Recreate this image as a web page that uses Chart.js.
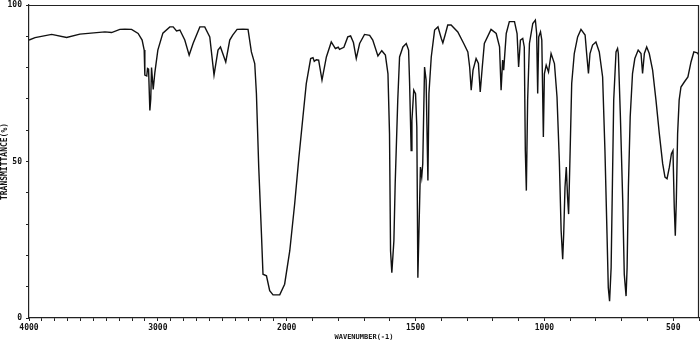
<!DOCTYPE html>
<html>
<head>
<meta charset="utf-8">
<script src="https://cdn.jsdelivr.net/npm/chart.js@4.4.0/dist/chart.umd.min.js"></script>
<style>
  html, body { margin: 0; padding: 0; background: #fff; }
  #wrap { width: 700px; height: 348px; }
</style>
</head>
<body>
<div id="wrap"><canvas id="irChart"></canvas></div>
<script>
// IR spectrum (wavenumber in cm-1, transmittance in %)
const wavenumbers = [
  4000, 3953, 3824, 3708, 3605, 3411, 3359, 3295, 3256, 3204, 3153, 3122, 3106, 3101, 3086, 3080,
  3072, 3062, 3055, 3049, 3036, 3023, 3000, 2961, 2907, 2881, 2855, 2829, 2791, 2757, 2726, 2674,
  2636, 2597, 2564, 2533, 2514, 2473, 2442, 2419, 2385, 2340, 2300, 2274, 2248, 2235, 2217, 2196,
  2184, 2157, 2132, 2106, 2054, 2016, 1988, 1969, 1953, 1937, 1924, 1907, 1898, 1893, 1885, 1876,
  1863, 1846, 1827, 1811, 1800, 1795, 1778, 1763, 1752, 1741, 1730, 1717, 1698, 1678, 1666, 1646,
  1631, 1617, 1607, 1601, 1597, 1592, 1584, 1579, 1569, 1562, 1549, 1536, 1527, 1523, 1517, 1514,
  1507, 1500, 1495, 1491, 1487, 1481, 1476, 1472, 1465, 1459, 1452, 1448, 1439, 1426, 1413, 1400,
  1394, 1385, 1375, 1362, 1336, 1313, 1297, 1290, 1284, 1277, 1265, 1256, 1249, 1241, 1233, 1207,
  1187, 1174, 1168, 1162, 1158, 1148, 1136, 1116, 1106, 1100, 1093, 1084, 1078, 1074, 1070, 1065,
  1058, 1045, 1035, 1030, 1026, 1022, 1015, 1010, 1004, 1000, 993, 984, 974, 961, 951, 942,
  935, 929, 925, 920, 915, 910, 906, 900, 894, 884, 871, 858, 842, 836, 829, 823,
  813, 800, 787, 774, 765, 757, 752, 747, 741, 736, 731, 722, 716, 713, 705, 696,
  690, 683, 679, 674, 667, 658, 649, 636, 625, 619, 612, 603, 593, 580, 567, 554,
  541, 532, 524, 515, 507, 501, 496, 492, 488, 483, 477, 470, 457, 443, 431, 420,
  407, 400
];
const transmittance = [
  88.8, 89.6, 90.6, 89.6, 90.7, 91.4, 91.2, 92.2, 92.3, 92.2, 90.9, 88.8, 85.6, 77.6, 77.3, 79.7,
  79.5, 66.3, 70.0, 80.0, 73.0, 78.5, 85.6, 91.0, 93.0, 93.0, 91.7, 92.0, 88.8, 84.0, 87.8, 93.0,
  93.0, 89.8, 77.6, 85.6, 86.6, 81.8, 88.8, 90.4, 92.2, 92.3, 92.2, 85.0, 81.3, 71.7, 48.2, 26.9,
  14.0, 13.5, 8.7, 7.4, 7.4, 10.8, 21.5, 36.5, 51.0, 64.2, 74.9, 82.9, 83.2, 82.0, 82.5, 82.4,
  76.0, 83.4, 88.2, 86.1, 86.5, 85.8, 86.5, 89.8, 90.1, 88.0, 82.9, 87.7, 90.6, 90.3, 88.8, 83.7,
  85.4, 84.0, 78.0, 58.9, 21.5, 14.5, 24.7, 42.9, 69.6, 83.4, 86.6, 87.7, 85.6, 74.9, 53.5, 63.1,
  72.8, 71.7, 61.0, 12.9, 26.9, 48.2, 45.0, 49.3, 80.2, 76.0, 43.9, 71.7, 83.4, 92.0, 93.0, 89.3,
  87.9, 90.5, 93.6, 93.6, 91.4, 87.7, 85.0, 80.2, 72.8, 79.2, 82.9, 81.3, 72.2, 80.2, 87.7, 92.2,
  90.9, 86.6, 72.8, 82.4, 79.2, 90.9, 94.7, 94.7, 90.9, 80.2, 88.8, 89.3, 86.6, 53.5, 40.7, 69.6,
  87.7, 94.1, 95.2, 90.9, 71.7, 89.8, 91.4, 88.8, 57.8, 78.0, 80.8, 78.6, 84.5, 81.3, 70.6, 50.3,
  27.9, 18.8, 26.9, 41.8, 48.2, 38.6, 33.2, 53.5, 74.9, 84.5, 89.8, 92.2, 90.4, 84.5, 78.1, 84.5,
  87.2, 88.2, 85.0, 77.0, 53.5, 26.9, 9.7, 5.4, 16.1, 42.9, 69.6, 85.0, 86.1, 84.5, 64.2, 37.5,
  14.0, 7.0, 16.1, 41.8, 64.2, 78.1, 82.9, 85.6, 84.5, 78.1, 84.5, 86.6, 84.5, 79.2, 69.6, 58.9,
  49.3, 45.0, 44.5, 48.2, 52.5, 53.5, 35.4, 26.3, 37.5, 58.9, 69.6, 73.8, 75.4, 77.0, 81.8, 85.0,
  84.7, 84.0
];

// axis labels
const xLabelValues = [4000, 3000, 2000, 1500, 1000, 500];
const yLabelValues = [0, 50, 100];
const xMin = 400, xMax = 4000, xBreak = 2000, xMinorStep = 100;

// the wavenumber axis is compressed 2:1 above 2000 cm-1, like the recorder chart
function irPos(v, min, max) {
  const span = (max - xBreak) / 2 + (xBreak - min);
  const d = v >= xBreak ? (max - v) / 2 : (max - xBreak) / 2 + (xBreak - v);
  return d / span;
}

class IrScale extends Chart.LinearScale {
  static id = 'ir';
  static defaults = {};
  buildTicks() {
    const ticks = [];
    for (let v = this.max; v >= this.min; v -= xMinorStep) ticks.push({ value: v });
    this.start = this.min;
    this.end = this.max;
    return ticks;
  }
  getPixelForValue(value) {
    return this.left + irPos(value, this.min, this.max) * this.width;
  }
  getValueForPixel(pixel) {
    const span = (this.max - xBreak) / 2 + (xBreak - this.min);
    const d = (pixel - this.left) / this.width * span;
    const top = (this.max - xBreak) / 2;
    return d <= top ? this.max - d * 2 : xBreak - (d - top);
  }
}
Chart.register(IrScale);

// top and right edges of the frame
const framePlugin = {
  id: 'frame',
  afterDraw(chart) {
    const a = chart.chartArea;
    const ctx = chart.ctx;
    ctx.save();
    ctx.strokeStyle = '#222';
    ctx.lineWidth = 1.2;
    ctx.beginPath();
    ctx.moveTo(a.left, a.top + 0.5);
    ctx.lineTo(a.right - 0.5, a.top + 0.5);
    ctx.lineTo(a.right - 0.5, a.bottom);
    ctx.stroke();
    ctx.restore();
  }
};

const points = wavenumbers.map((w, i) => ({ x: w, y: transmittance[i] }));
const tickFont = { family: 'DejaVu Sans Mono', size: 8, weight: 'bold' };
const titleFont = { family: 'DejaVu Sans Mono', size: 8, weight: 'bold' };

new Chart(document.getElementById('irChart'), {
  type: 'line',
  data: {
    datasets: [{
      data: points,
      borderColor: '#111',
      borderWidth: 1.4,
      pointRadius: 0,
      tension: 0,
      fill: false
    }]
  },
  options: {
    responsive: true,
    maintainAspectRatio: false,
    animation: false,
    layout: { padding: { top: 5, right: 1, left: 0, bottom: 0 } },
    plugins: { legend: { display: false }, tooltip: { enabled: false } },
    scales: {
      x: {
        type: 'ir',
        min: xMin,
        max: xMax,
        afterFit: s => { s.height = 30; s.paddingLeft = 0; s.paddingRight = 0; },
        grid: { drawOnChartArea: false, drawTicks: true, tickLength: 3, color: '#222' },
        border: { display: true, color: '#222', width: 1.2 },
        ticks: {
          autoSkip: false,
          maxRotation: 0,
          padding: 2,
          color: '#111',
          font: tickFont,
          callback: v => xLabelValues.includes(v) ? String(v) : ''
        },
        title: {
          display: true,
          text: 'WAVENUMBER(-1)',
          color: '#111',
          font: { family: 'DejaVu Sans Mono', size: 7, weight: 'bold' },
          padding: { top: 0, bottom: 7 }
        }
      },
      y: {
        min: 0,
        max: 100,
        afterFit: s => { s.width = 29; s.paddingTop = 0; s.paddingBottom = 0; },
        grid: { drawOnChartArea: false, drawTicks: true, tickLength: 3, color: '#222' },
        border: { display: true, color: '#222', width: 1.2 },
        ticks: {
          stepSize: 10,
          autoSkip: false,
          padding: 4,
          color: '#111',
          font: tickFont,
          callback: v => yLabelValues.includes(v) ? String(v) : ''
        },
        title: {
          display: true,
          text: 'TRANSMITTANCE(%)',
          color: '#111',
          font: titleFont,
          padding: { top: 0, bottom: 0 }
        }
      }
    }
  },
  plugins: [framePlugin]
});
</script>
</body>
</html>
